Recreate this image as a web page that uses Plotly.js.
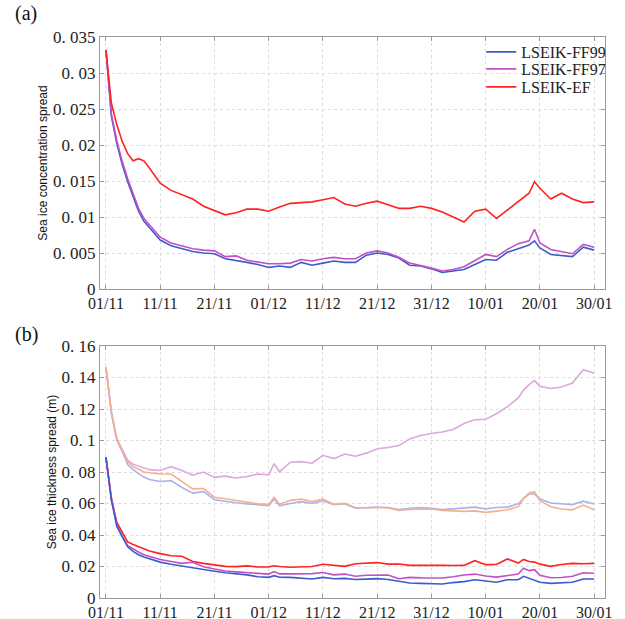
<!DOCTYPE html>
<html>
<head>
<meta charset="utf-8">
<script src="https://cdn.plot.ly/plotly-3.0.1.min.js"></script>
<style>html,body{margin:0;padding:0;background:#fff;}#chart{width:625px;height:619px;}</style>
</head>
<body>
<div id="chart"></div>
<script>
// ---- Data ----
var xTickVals = [0,10,20,30,40,50,60,70,80,90];
var xTickText = ["01/11","11/11","21/11","01/12","11/12","21/12","31/12","10/01","20/01","30/01"];

var topTickVals = [0,0.005,0.01,0.015,0.02,0.025,0.03,0.035];
var topTickText = ["0","0. 005","0. 01","0. 015","0. 02","0. 025","0. 03","0. 035"];
var botTickVals = [0,0.02,0.04,0.06,0.08,0.1,0.12,0.14,0.16];
var botTickText = ["0","0. 02","0. 04","0. 06","0. 08","0. 1","0. 12","0. 14","0. 16"];

// panel (a): sea ice concentration spread
var daysA = [0,1,2,3,4,5,6,7,8,10,12,14,16,18,20,22,24,26,28,30,32,34,36,38,40,42,44,46,48,50,52,54,56,58,60,62,64,66,68,70,72,74,76,78,79,80,82,84,86,88,90];
var concFF99 = [0.0332,0.0240,0.0202,0.0173,0.0149,0.0127,0.0108,0.0094,0.0085,0.0068,0.0060,0.0056,0.0052,0.0050,0.0049,0.0042,0.0040,0.0037,0.0034,0.0030,0.0032,0.0030,0.0037,0.0033,0.0036,0.0039,0.0037,0.0037,0.0047,0.0050,0.0048,0.0043,0.0033,0.0032,0.0028,0.0023,0.0025,0.0027,0.0034,0.0041,0.0040,0.0051,0.0056,0.0061,0.0067,0.0057,0.0048,0.0046,0.0045,0.0058,0.0054];
var concFF97 = [0.0332,0.0243,0.0206,0.0177,0.0153,0.0131,0.0112,0.0098,0.0089,0.0072,0.0064,0.0060,0.0056,0.0054,0.0053,0.0045,0.0046,0.0040,0.0038,0.0035,0.0035,0.0036,0.0041,0.0039,0.0042,0.0044,0.0042,0.0042,0.0050,0.0053,0.0050,0.0044,0.0036,0.0033,0.0029,0.0025,0.0027,0.0031,0.0040,0.0048,0.0045,0.0055,0.0063,0.0067,0.0083,0.0064,0.0055,0.0052,0.0049,0.0062,0.0058];
var concEF   = [0.0332,0.0258,0.0228,0.0205,0.0188,0.0178,0.0181,0.0178,0.0168,0.0147,0.0137,0.0131,0.0125,0.0115,0.0109,0.0103,0.0106,0.0111,0.0111,0.0108,0.0114,0.0119,0.0120,0.0121,0.0124,0.0127,0.0118,0.0115,0.0119,0.0122,0.0117,0.0112,0.0112,0.0115,0.0112,0.0107,0.0100,0.0093,0.0108,0.0111,0.0098,0.0110,0.0122,0.0133,0.0149,0.0140,0.0125,0.0133,0.0125,0.0120,0.0121];

// panel (b): sea ice thickness spread
var daysB = [0,1,2,3,4,5,6,7,8,10,12,14,16,18,20,22,24,26,28,30,31,32,34,36,38,40,42,44,46,48,50,52,54,56,58,60,62,64,66,68,70,72,74,76,77,78,79,80,82,84,86,88,90];
var thickPink   = [0.1465,0.118,0.101,0.094,0.0875,0.085,0.084,0.0825,0.0815,0.081,0.0834,0.081,0.078,0.080,0.0766,0.0774,0.0762,0.0772,0.0787,0.0782,0.0853,0.0802,0.0862,0.0866,0.0856,0.0906,0.0885,0.0914,0.090,0.092,0.0948,0.0956,0.0968,0.101,0.1032,0.1045,0.1054,0.107,0.1108,0.1132,0.1135,0.117,0.1215,0.127,0.132,0.1355,0.138,0.1345,0.133,0.134,0.1365,0.145,0.1427];
var thickOrange = [0.1465,0.118,0.101,0.094,0.0865,0.0835,0.0815,0.080,0.0795,0.0788,0.0787,0.0742,0.0693,0.0695,0.064,0.063,0.062,0.0608,0.0598,0.0595,0.064,0.0595,0.062,0.0628,0.0612,0.0628,0.0596,0.0602,0.0575,0.0572,0.0575,0.0572,0.0556,0.0562,0.0565,0.0565,0.0556,0.0552,0.055,0.0553,0.0544,0.0552,0.056,0.058,0.0633,0.0667,0.0675,0.0618,0.058,0.0565,0.056,0.059,0.056];
var thickLBlue  = [0.1465,0.117,0.100,0.093,0.0848,0.0815,0.079,0.0768,0.0752,0.074,0.0745,0.0702,0.0666,0.0675,0.0624,0.0613,0.0605,0.0598,0.0592,0.0587,0.0629,0.0585,0.060,0.0612,0.060,0.0617,0.0592,0.0598,0.057,0.0575,0.0578,0.0575,0.0562,0.057,0.0574,0.057,0.0562,0.0566,0.057,0.0577,0.0566,0.0575,0.0577,0.0598,0.0633,0.066,0.066,0.0629,0.0603,0.0596,0.0593,0.0615,0.0597];
var thickEF     = [0.0893,0.063,0.048,0.0413,0.0356,0.034,0.0325,0.0311,0.0298,0.0282,0.0268,0.0265,0.0232,0.022,0.021,0.0201,0.0199,0.0204,0.0197,0.0198,0.0205,0.0200,0.0195,0.0197,0.0200,0.0214,0.0208,0.0201,0.0218,0.022,0.0225,0.0215,0.0216,0.0207,0.0208,0.021,0.0208,0.0206,0.0207,0.0237,0.0212,0.0213,0.0248,0.0222,0.0245,0.0232,0.0228,0.0215,0.0201,0.0213,0.022,0.0218,0.022];
var thickFF97   = [0.0893,0.0635,0.0465,0.0392,0.0332,0.031,0.0292,0.0275,0.0265,0.0245,0.0232,0.022,0.0227,0.0198,0.0184,0.0172,0.0166,0.0162,0.0154,0.0152,0.0168,0.0153,0.0153,0.0152,0.0155,0.0162,0.0147,0.0152,0.0138,0.0145,0.0146,0.0146,0.0122,0.0131,0.0128,0.0127,0.0127,0.0135,0.0146,0.0152,0.014,0.0133,0.0143,0.0152,0.0189,0.0174,0.018,0.0144,0.0129,0.013,0.0138,0.016,0.0157];
var thickFF99   = [0.0893,0.062,0.0455,0.0385,0.0325,0.0296,0.0275,0.026,0.0248,0.0228,0.0214,0.0202,0.019,0.018,0.017,0.016,0.0153,0.0147,0.0135,0.0131,0.0142,0.0132,0.0131,0.0128,0.0121,0.0131,0.0122,0.0125,0.0118,0.012,0.0123,0.0118,0.0105,0.0095,0.0093,0.0093,0.0089,0.0098,0.0104,0.0116,0.011,0.01,0.0116,0.0116,0.0138,0.0125,0.0116,0.01,0.0093,0.0095,0.01,0.0121,0.0121];

// ---- Styles ----
var cBlue = '#3d5ccc', cMag = '#c24fc4', cRed = '#ff2222';
var cPink = '#dda6dd', cOrange = '#f7b08c', cLBlue = '#a9b3ec';
var serif = '"Liberation Serif"';
var sans = '"Liberation Sans"';

function tr(x, y, color, name, xa, ya, leg) {
  var t = {x: x, y: y, type: 'scatter', mode: 'lines', name: name,
          line: {color: color, width: 1.6}, xaxis: xa, yaxis: ya,
          showlegend: !!leg, hoverinfo: 'skip'};
  if (leg) t.legend = leg;
  return t;
}

var data = [
  tr(daysA, concFF99, cBlue, 'LSEIK-FF99', 'x', 'y', 'legend'),
  tr(daysA, concFF97, cMag, 'LSEIK-FF97', 'x', 'y', 'legend2'),
  tr(daysA, concEF, cRed, 'LSEIK-EF', 'x', 'y', 'legend3'),
  tr(daysB, thickPink, cPink, 'p', 'x2', 'y2'),
  tr(daysB, thickLBlue, cLBlue, 'lb', 'x2', 'y2'),
  tr(daysB, thickOrange, cOrange, 'o', 'x2', 'y2'),
  tr(daysB, thickEF, cRed, 'r', 'x2', 'y2'),
  tr(daysB, thickFF97, cMag, 'm', 'x2', 'y2'),
  tr(daysB, thickFF99, cBlue, 'b', 'x2', 'y2')
];

function xax(anchor) {
  return {anchor: anchor, range: [-1.1, 92.0], tickvals: xTickVals, ticktext: xTickText,
    showline: true, linecolor: '#9a9a9a', linewidth: 1, mirror: 'ticks',
    ticks: 'inside', ticklen: 4, tickcolor: '#9a9a9a',
    showgrid: true, gridcolor: '#dcdcdc', griddash: 'dot', gridwidth: 1,
    zeroline: false, tickfont: {family: serif, size: 16, color: '#222'}, fixedrange: true};
}
function yax(anchor, dom, range, tv, tt, title, standoff) {
  return {anchor: anchor, domain: dom, range: range, tickvals: tv, ticktext: tt,
    showline: true, linecolor: '#9a9a9a', linewidth: 1, mirror: 'ticks',
    ticks: 'inside', ticklen: 4, tickcolor: '#9a9a9a',
    showgrid: true, gridcolor: '#dcdcdc', griddash: 'dot', gridwidth: 1,
    zeroline: false, tickfont: {family: serif, size: 17, color: '#222'},
    title: {text: title, font: {family: sans, size: 12, color: '#111'}, standoff: standoff},
    fixedrange: true};
}
function leg(yc) {
  return {x: 0.755, xanchor: 'left', y: yc, yanchor: 'middle', bgcolor: 'rgba(0,0,0,0)',
          borderwidth: 0, font: {family: serif, size: 16, color: '#222'}};
}

var layout = {
  width: 625, height: 619,
  margin: {l: 100, r: 20, t: 0, b: 0},
  paper_bgcolor: '#fff', plot_bgcolor: '#fff',
  xaxis: xax('y'),
  yaxis: yax('x', [0.5331, 0.9402], [0, 0.035], topTickVals, topTickText, 'Sea ice concentration spread', 2),
  xaxis2: xax('y2'),
  yaxis2: yax('x2', [0.0339, 0.4410], [0, 0.16], botTickVals, botTickText, 'Sea ice thickness spread (m)', 2),
  legend: leg(0.916),
  legend2: leg(0.8885),
  legend3: leg(0.8595),
  annotations: [
    {text: '(a)', xref: 'paper', yref: 'paper', x: -0.172, y: 1.0, xanchor: 'left', yanchor: 'top',
     showarrow: false, font: {family: serif, size: 20, color: '#111'}},
    {text: '(b)', xref: 'paper', yref: 'paper', x: -0.172, y: 0.482, xanchor: 'left', yanchor: 'top',
     showarrow: false, font: {family: serif, size: 20, color: '#111'}}
  ]
};

Plotly.newPlot('chart', data, layout, {displayModeBar: false, staticPlot: true});
</script>
</body>
</html>
